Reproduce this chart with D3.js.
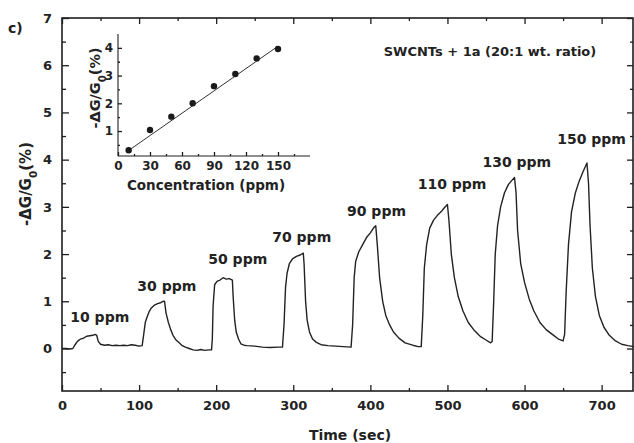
<!DOCTYPE html>
<html>
<head>
<meta charset="utf-8">
<script src="https://cdn.jsdelivr.net/npm/d3@7"></script>
<style>
  body { margin: 0; background: #fff; }
  svg text { font-family: "DejaVu Sans", "Liberation Sans", sans-serif; font-weight: bold; fill: #222; }
</style>
</head>
<body>
<div id="chart"></div>
<script>
// main trace: time (sec) and -dG/G0 (%)
const timeSec = [0,5,10,14,17,20,24,28,32,36,40,43,45,47,50,55,60,65,70,75,80,85,90,95,100,104,
  106,108,110,113,116,120,124,128,131,133,135,138,141,144,148,152,156,160,165,170,175,180,185,190,194,
  195,196,198,201,205,209,213,217,221,222,224,226,229,232,236,240,250,260,270,280,286,
  288,290,292,295,299,304,309,313,314,316,318,321,325,330,336,345,355,365,375,
  377,379,381,385,390,395,400,404,407,409,412,416,420,425,430,437,445,455,462,466,
  468,470,473,477,482,487,492,496,500,502,505,509,514,520,527,535,543,550,556,
  558,560,562,565,569,574,579,583,587,589,591,595,600,606,612,620,628,636,644,650,
  652,654,657,661,666,671,676,681,683,685,688,692,697,703,710,718,726,734,742];
const response = [0,0.0,-0.01,0.0,0.08,0.15,0.2,0.22,0.26,0.27,0.28,0.3,0.28,0.15,0.09,0.07,0.08,0.06,0.07,0.06,0.07,0.06,0.08,0.07,0.05,0.06,
  0.3,0.55,0.65,0.78,0.86,0.92,0.95,0.97,1.0,1.0,0.75,0.55,0.4,0.28,0.18,0.12,0.06,0.03,0.0,-0.03,-0.04,-0.02,-0.04,-0.03,-0.03,
  0.2,0.9,1.35,1.42,1.45,1.5,1.47,1.48,1.45,1.1,0.6,0.35,0.2,0.1,0.07,0.06,0.05,0.03,0.02,0.03,0.03,
  0.5,1.3,1.6,1.8,1.9,1.95,1.98,2.02,1.8,1.0,0.6,0.35,0.2,0.13,0.08,0.06,0.05,0.04,0.03,
  0.5,1.5,1.85,2.05,2.2,2.35,2.45,2.55,2.6,2.2,1.5,1.0,0.7,0.5,0.35,0.22,0.12,0.07,0.04,0.04,
  0.7,1.7,2.2,2.55,2.72,2.82,2.9,2.98,3.05,2.7,2.0,1.5,1.1,0.8,0.55,0.38,0.25,0.18,0.12,
  0.15,1.0,2.0,2.6,3.0,3.3,3.47,3.55,3.62,3.3,2.5,1.8,1.4,1.05,0.8,0.55,0.4,0.3,0.2,0.16,
  0.3,1.2,2.2,2.9,3.3,3.55,3.75,3.93,3.5,2.6,1.7,1.1,0.7,0.45,0.28,0.16,0.09,0.06,0.04];

// peak labels
const pulseLabels = ["10 ppm","30 ppm","50 ppm","70 ppm","90 ppm","110 ppm","130 ppm","150 ppm"];
const labelTime = [49,136,228,311,408,506,590,687];
const labelValue = [0.65,1.30,1.88,2.34,2.89,3.46,3.93,4.42];

// inset: concentration vs response
const concPpm = [10,30,50,70,90,110,130,150];
const concResp = [0.31,1.04,1.52,2.0,2.62,3.06,3.62,3.96];
const fitConc = [10,150];
const fitResp = [0.3,4.06];

const xTicks = [0,100,200,300,400,500,600,700];
const yTicks = [0,1,2,3,4,5,6,7];
const insetXTicks = [0,30,60,90,120,150];
const insetYTicks = [1,2,3,4];

const W = 634, H = 443;
const ink = "#1e1e1e";

const svg = d3.select("#chart").append("svg")
  .attr("width", W).attr("height", H);

const x = d3.scaleLinear().domain([0, 742]).range([62, 634]);
const y = d3.scaleLinear().domain([-0.9, 7]).range([391, 18]);

// frame
svg.append("rect")
  .attr("x", x.range()[0]).attr("y", y.range()[1])
  .attr("width", x.range()[1] - x.range()[0] - 1)
  .attr("height", y.range()[0] - y.range()[1])
  .attr("fill", "none").attr("stroke", ink).attr("stroke-width", 1.6);

function styleAxis(g) {
  g.select(".domain").remove();
  g.selectAll(".tick line").attr("stroke", ink).attr("stroke-width", 1.3);
  g.selectAll("text").attr("fill", "#222");
}

const xMinor = d3.range(50, 742, 100);
const yMinor = d3.range(-0.5, 7, 1);

// bottom
svg.append("g").attr("transform", `translate(0,${y.range()[0]})`)
  .call(d3.axisBottom(x).tickValues(xTicks).tickSize(-6).tickPadding(10))
  .call(styleAxis)
  .call(g => g.selectAll("text").attr("font-size", 13));
svg.append("g").attr("transform", `translate(0,${y.range()[0]})`)
  .call(d3.axisBottom(x).tickValues(xMinor).tickSize(-3).tickFormat(""))
  .call(styleAxis);
// top
svg.append("g").attr("transform", `translate(0,${y.range()[1]})`)
  .call(d3.axisTop(x).tickValues(xTicks).tickSize(-6).tickFormat(""))
  .call(styleAxis);
svg.append("g").attr("transform", `translate(0,${y.range()[1]})`)
  .call(d3.axisTop(x).tickValues(xMinor).tickSize(-3).tickFormat(""))
  .call(styleAxis);
// left
svg.append("g").attr("transform", `translate(${x.range()[0]},0)`)
  .call(d3.axisLeft(y).tickValues(yTicks).tickSize(-7).tickPadding(10))
  .call(styleAxis)
  .call(g => g.selectAll("text").attr("font-size", 13));
svg.append("g").attr("transform", `translate(${x.range()[0]},0)`)
  .call(d3.axisLeft(y).tickValues(yMinor).tickSize(-4).tickFormat(""))
  .call(styleAxis);
// right
svg.append("g").attr("transform", `translate(${x.range()[1] - 1},0)`)
  .call(d3.axisRight(y).tickValues(yTicks).tickSize(-6).tickFormat(""))
  .call(styleAxis);
svg.append("g").attr("transform", `translate(${x.range()[1] - 1},0)`)
  .call(d3.axisRight(y).tickValues(yMinor).tickSize(-3).tickFormat(""))
  .call(styleAxis);

// trace
const line = d3.line()
  .x((d, i) => x(timeSec[i]))
  .y(d => y(d));
svg.append("path")
  .datum(response)
  .attr("d", line)
  .attr("fill", "none")
  .attr("stroke", "#222")
  .attr("stroke-width", 1.4)
  .attr("stroke-linejoin", "round");

// pulse labels
svg.selectAll(".plabel")
  .data(pulseLabels)
  .enter().append("text")
  .attr("class", "plabel")
  .attr("x", (d, i) => x(labelTime[i]))
  .attr("y", (d, i) => y(labelValue[i]))
  .attr("text-anchor", "middle")
  .attr("dominant-baseline", "middle")
  .attr("font-size", 14)
  .text(d => d);

// titles
svg.append("text").attr("x", 490).attr("y", 52)
  .attr("text-anchor", "middle").attr("dominant-baseline", "middle")
  .attr("font-size", 13).text("SWCNTs + 1a (20:1 wt. ratio)");
svg.append("text").attr("x", 8).attr("y", 33)
  .attr("font-size", 14).text("c)");
svg.append("text").attr("x", 350).attr("y", 436)
  .attr("text-anchor", "middle").attr("dominant-baseline", "middle")
  .attr("font-size", 14).text("Time (sec)");

function dgLabel(sel, size) {
  sel.append("tspan").text("-\u0394G/G");
  sel.append("tspan").attr("baseline-shift", "sub").attr("font-size", size * 0.7).text("0");
  sel.append("tspan").text("(%)");
}
svg.append("text")
  .attr("transform", "translate(31,184) rotate(-90)")
  .attr("text-anchor", "middle")
  .attr("font-size", 15)
  .call(dgLabel, 15);

// inset
const ix = d3.scaleLinear().domain([0, 180]).range([118, 310]);
const iy = d3.scaleLinear().domain([0.1, 4.5]).range([156, 34]);
const inset = svg.append("g");

inset.append("line")
  .attr("x1", ix.range()[0]).attr("x2", ix.range()[1])
  .attr("y1", iy.range()[0]).attr("y2", iy.range()[0])
  .attr("stroke", ink).attr("stroke-width", 1.1);
inset.append("line")
  .attr("x1", ix.range()[0]).attr("x2", ix.range()[0])
  .attr("y1", iy.range()[0]).attr("y2", iy.range()[1])
  .attr("stroke", ink).attr("stroke-width", 1.1);

inset.append("g").attr("transform", `translate(0,${iy.range()[0]})`)
  .call(d3.axisBottom(ix).tickValues(insetXTicks).tickSize(-4).tickPadding(5))
  .call(styleAxis)
  .call(g => g.selectAll("text").attr("font-size", 12));
inset.append("g").attr("transform", `translate(0,${iy.range()[0]})`)
  .call(d3.axisBottom(ix).tickValues(d3.range(15, 180, 30)).tickSize(-2).tickFormat(""))
  .call(styleAxis);
inset.append("g").attr("transform", `translate(${ix.range()[0]},0)`)
  .call(d3.axisLeft(iy).tickValues(insetYTicks).tickFormat(d3.format("d")).tickSize(-4).tickPadding(5))
  .call(styleAxis)
  .call(g => g.selectAll("text").attr("font-size", 12));
inset.append("g").attr("transform", `translate(${ix.range()[0]},0)`)
  .call(d3.axisLeft(iy).tickValues(d3.range(0.5, 4.5, 1)).tickSize(-2).tickFormat(""))
  .call(styleAxis);

inset.append("path")
  .datum(fitResp)
  .attr("d", d3.line().x((d, i) => ix(fitConc[i])).y(d => iy(d)))
  .attr("stroke", "#333").attr("stroke-width", 1).attr("fill", "none");

inset.selectAll("circle")
  .data(concResp)
  .enter().append("circle")
  .attr("cx", (d, i) => ix(concPpm[i]))
  .attr("cy", d => iy(d))
  .attr("r", 3.2)
  .attr("fill", "#1a1a1a");

inset.append("text").attr("x", 206).attr("y", 190)
  .attr("text-anchor", "middle")
  .attr("font-size", 13.5).text("Concentration (ppm)");
inset.append("text")
  .attr("transform", "translate(100,88) rotate(-90)")
  .attr("text-anchor", "middle")
  .attr("font-size", 14.5)
  .call(dgLabel, 14.5);
</script>
</body>
</html>
